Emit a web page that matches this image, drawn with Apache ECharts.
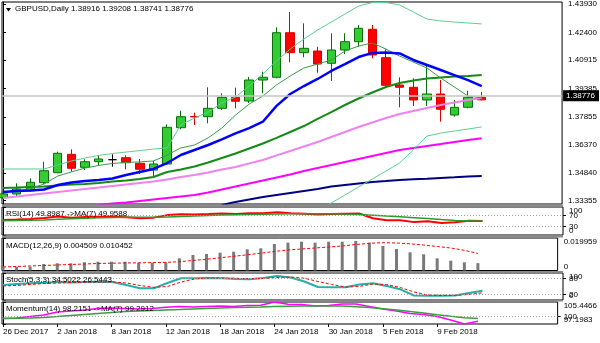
<!DOCTYPE html>
<html>
<head>
<meta charset="utf-8">
<script src="https://cdn.jsdelivr.net/npm/echarts@6/dist/echarts.min.js"></script>
<style>
  html, body { margin: 0; padding: 0; background: #fff; }
  #chart { width: 600px; height: 343px; }
</style>
</head>
<body>
<div id="chart"></div>
<script>
// ---- GBPUSD daily bars ----
const symbol = 'GBPUSD';
const period = 'Daily';
const dates = ['26 Dec 2017','27 Dec 2017','28 Dec 2017','29 Dec 2017','2 Jan 2018','3 Jan 2018','4 Jan 2018','5 Jan 2018',
  '8 Jan 2018','9 Jan 2018','10 Jan 2018','11 Jan 2018','12 Jan 2018','15 Jan 2018','16 Jan 2018','17 Jan 2018',
  '18 Jan 2018','19 Jan 2018','22 Jan 2018','23 Jan 2018','24 Jan 2018','25 Jan 2018','26 Jan 2018','29 Jan 2018',
  '30 Jan 2018','31 Jan 2018','1 Feb 2018','2 Feb 2018','5 Feb 2018','6 Feb 2018','7 Feb 2018','8 Feb 2018',
  '9 Feb 2018','12 Feb 2018','13 Feb 2018','14 Feb 2018'];
const open  = [1.33520,1.33715,1.33892,1.34322,1.34860,1.35849,1.35150,1.35452,1.35559,1.35667,1.35365,1.35005,
  1.35328,1.37280,1.37880,1.37871,1.38322,1.38914,1.38715,1.39844,1.39989,1.42387,1.41312,1.41403,
  1.40742,1.41457,1.41903,1.42570,1.41043,1.39575,1.39452,1.38769,1.39091,1.37962,1.38376,1.38916];
const high  = [1.33850,1.34290,1.34559,1.35452,1.35989,1.36118,1.35581,1.35812,1.35849,1.35796,1.35597,1.35489,
  1.37462,1.38193,1.38086,1.39452,1.39129,1.39430,1.40005,1.40290,1.42677,1.43500,1.42892,1.41634,
  1.42355,1.42355,1.42801,1.42801,1.41495,1.39989,1.39935,1.40634,1.39844,1.38769,1.39269,1.39208];
const low   = [1.33450,1.33607,1.33839,1.34236,1.34828,1.34914,1.35005,1.35220,1.35183,1.35043,1.34790,1.34613,
  1.35274,1.37193,1.37425,1.37516,1.38231,1.38322,1.38607,1.39129,1.39935,1.40796,1.41064,1.40236,
  1.39790,1.41242,1.41634,1.41011,1.39521,1.38376,1.38446,1.38446,1.37602,1.37871,1.38322,1.38741];
const close = [1.33720,1.33984,1.34344,1.34968,1.35903,1.35097,1.35452,1.35597,1.35559,1.35398,1.35043,1.35328,
  1.37301,1.37871,1.37860,1.38322,1.38914,1.38700,1.39844,1.39989,1.42387,1.41312,1.41548,1.40704,
  1.41457,1.41903,1.42624,1.41188,1.39559,1.39452,1.38769,1.39091,1.38269,1.38376,1.38914,1.38776];

// ---- moving averages and bands on the price window ----
const maFast = [1.3377,1.3388,1.3400,1.3425,1.3468,1.3490,1.3511,1.3525,1.3536,1.3541,1.3544,1.3549,
  1.3581,1.3619,1.3635,1.3673,1.3726,1.3796,1.3855,1.3898,1.3958,1.4006,1.4049,1.4070,
  1.4092,1.4140,1.4167,1.4183,1.4151,1.4113,1.4081,1.4049,1.3995,1.3947,1.3898,1.3888];
const maBlue = [1.3382,1.3388,1.3390,1.3396,1.3420,1.3433,1.3441,1.3447,1.3455,1.3474,1.3490,1.3506,
  1.3538,1.3581,1.3608,1.3635,1.3665,1.3697,1.3726,1.3760,1.3845,1.3909,1.3952,1.3990,
  1.4033,1.4070,1.4108,1.4130,1.4132,1.4127,1.4092,1.4065,1.4038,1.4011,1.3984,1.3952];
const maGreen = [1.3404,1.3406,1.3409,1.3412,1.3417,1.3423,1.3425,1.3431,1.3439,1.3444,1.3452,1.3463,
  1.3490,1.3503,1.3519,1.3541,1.3565,1.3589,1.3616,1.3643,1.3673,1.3705,1.3737,1.3775,
  1.3812,1.3850,1.3885,1.3917,1.3947,1.3968,1.3982,1.3993,1.3998,1.4003,1.4006,1.4011];
const bandUpper = [1.3506,1.3506,1.3506,1.3506,1.3527,1.3549,1.3565,1.3579,1.3589,1.3597,1.3605,1.3613,
  1.3619,1.3743,1.3780,1.3812,1.3861,1.3893,1.3952,1.4017,1.4087,1.4151,1.4205,1.4253,
  1.4296,1.4339,1.4382,1.4401,1.4401,1.4388,1.4350,1.4312,1.4302,1.4296,1.4291,1.4286];
const bandLower = [null,null,null,null,null,null,null,null,null,null,null,null,
  null,null,null,null,null,null,null,null,null,null,1.3237,1.3280,
  1.3323,1.3366,1.3409,1.3452,1.3495,1.3538,1.3608,1.3683,1.3699,1.3710,1.3721,1.3732];
const maViolet = [1.3350,1.3358,1.3366,1.3374,1.3382,1.3390,1.3398,1.3406,1.3415,1.3423,1.3431,1.3439,
  1.3449,1.3463,1.3474,1.3487,1.3503,1.3517,1.3536,1.3554,1.3579,1.3603,1.3627,1.3651,
  1.3678,1.3705,1.3732,1.3756,1.3780,1.3802,1.3818,1.3834,1.3850,1.3863,1.3877,1.3888];
const maMagenta = [null,null,null,null,null,null,null,1.3312,1.3320,1.3326,1.3334,1.3342,
  1.3350,1.3358,1.3366,1.3380,1.3396,1.3412,1.3428,1.3444,1.3460,1.3476,1.3495,1.3511,
  1.3527,1.3544,1.3560,1.3576,1.3592,1.3608,1.3619,1.3630,1.3640,1.3651,1.3662,1.3671];
const maNavy = [null,null,null,null,null,null,null,null,null,null,null,null,
  null,null,null,null,1.3312,1.3329,1.3342,1.3355,1.3366,1.3377,1.3388,1.3398,
  1.3412,1.3420,1.3428,1.3436,1.3441,1.3447,1.3451,1.3454,1.3458,1.3461,1.3465,1.3468];
const priceTicks = [1.43930, 1.42400, 1.40915, 1.39385, 1.37855, 1.36370, 1.34840, 1.33355];

// ---- oscillators ----
const rsi = [54,55,57,61,66,62,64,65,65,63,60,62,71,74,73.5,75,77,75,78,78,81,77.5,76,73,
  75,76,77,60,53,53,46,49,43,45.5,50.5,49.8987];
const rsiMa = [51,52,53,54,56.5,58,60,61.5,62.5,63,63,63,64,66,68,70,71.5,72.5,73,74,75,75.5,75.5,75.5,
  75.5,74.5,73,70.5,67.5,65,62,58.5,55,52,50.5,49.9588];
const rsiRange = [0, 100];
const rsiLevels = [30, 70];

const macdMain = [0.00246,0.00233,0.00233,0.00400,0.00442,0.00442,0.00504,0.00541,0.00541,0.00541,0.00479,0.00479,
  0.00504,0.00750,0.00952,0.01014,0.01093,0.01155,0.01302,0.01364,0.01628,0.01708,0.01769,0.01708,
  0.01769,0.01769,0.01812,0.01708,0.01505,0.01321,0.01118,0.00995,0.00749,0.00602,0.00504,0.004509];
const macdSignal = [0.00215,0.00246,0.00276,0.00307,0.00338,0.00369,0.00399,0.00430,0.00448,0.00461,0.00473,0.00485,
  0.00498,0.00541,0.00614,0.00694,0.00780,0.00872,0.00964,0.01063,0.01167,0.01259,0.01321,0.01382,
  0.01443,0.01505,0.01597,0.01671,0.01708,0.01689,0.01640,0.01566,0.01474,0.01382,0.01241,0.010452];
const macdRange = [0, 0.019959];

const stochK = [55.6,59,62,64,66.7,65,66.7,68,66.7,55.6,43.3,43.3,63,80.4,80.4,81.5,80.4,77.8,76.7,81.5,88.9,83.3,68.5,48,
  47,47,57.4,61.9,51.9,39.6,16.7,16,16,16.7,26,34.5022];
const stochD = [51.9,53.7,57.4,61,63,64.8,65.6,66.7,66.7,63,53.7,47,50,66.7,77.8,81.5,81.5,80.4,78.9,79.6,83.3,85.2,80.4,68.5,
  57.4,48,50,59.3,57.4,46.3,29.6,18.5,16.7,17.4,20.4,26.5443];
const stochRange = [0, 100];
const stochLevels = [20, 80];

const momentum = [99.26,99.45,100.01,100.57,101.7,102.07,102.45,103.01,103.2,103.01,102.82,103.01,
  103.46,103.76,103.57,103.76,103.95,103.76,104.13,104.21,105.4466,104.58,104.51,103.95,
  104.13,104.7,104.7,103.76,102.82,102.07,101.14,100.76,100.01,98.7,97.1983,98.2151];
const momentumMa = [99.26,99.34,99.45,99.64,100.01,100.39,100.76,101.14,101.51,101.89,102.07,102.26,
  102.45,102.63,102.82,103.01,103.2,103.38,103.46,103.57,103.76,103.87,103.95,103.95,
  103.95,103.95,103.68,103.38,102.93,102.45,101.89,101.32,100.68,100.08,99.52,99.2912];
const momentumRange = [97.1983, 105.4466];
const momentumLevels = [100];

// ---- layout ----
const FONT = '"Liberation Sans", Arial, sans-serif';
const X_MIN = -0.073, X_MAX = 40.876;
const last = dates.length - 1;
const dateTicks = dates.map((d, i) => i).filter(i => i % 4 === 0);

const pairs = arr => arr.map((v, i) => [i, v]).filter(p => p[1] != null);

const panels = [
  { top: 2,   height: 202 },
  { top: 207, height: 28 },
  { top: 238, height: 32.5 },
  { top: 273, height: 27 },
  { top: 302, height: 22 }
];

const grids = panels.map(p => ({
  left: 2, top: p.top, width: 561, height: p.height,
  show: true, borderColor: '#000', borderWidth: 1, backgroundColor: '#fff'
}));

const xAxes = panels.map((p, k) => {
  const isLast = k === panels.length - 1;
  return {
    type: 'value', gridIndex: k, min: X_MIN, max: X_MAX,
    show: isLast,
    axisLine: { show: false },
    splitLine: { show: false },
    axisTick: { show: isLast, customValues: dateTicks, length: 3, lineStyle: { color: '#000' } },
    axisLabel: {
      show: isLast, customValues: dateTicks, margin: 4, align: 'left',
      fontSize: 8, fontFamily: FONT, color: '#000', hideOverlap: false,
      formatter: v => dates[Math.round(v)] || ''
    }
  };
});

// labels sitting on a window's top or bottom edge are nudged inside it
const edgeRich = {
  t: { padding: [8, 0, 0, 0], fontSize: 8, fontFamily: FONT, color: '#000' },
  b: { padding: [0, 0, 8, 0], fontSize: 8, fontFamily: FONT, color: '#000' }
};
function yAxisFor(k, range, ticks, fmt, withLine) {
  return {
    type: 'value', gridIndex: k, position: 'right', min: range[0], max: range[1],
    axisLine: { show: withLine, lineStyle: { color: '#000' } },
    splitLine: { show: false },
    axisTick: { show: true, customValues: ticks, length: 3, lineStyle: { color: '#000' } },
    axisLabel: {
      customValues: ticks, margin: 6, fontSize: 8, fontFamily: FONT, color: '#000',
      showMinLabel: true, showMaxLabel: true, hideOverlap: false,
      formatter: fmt, rich: edgeRich
    }
  };
}
const near = (a, b) => Math.abs(a - b) < 1e-9;
const edgeFmt = (range, f) => v => near(v, range[1]) ? '{t|' + f(v) + '}' : near(v, range[0]) ? '{b|' + f(v) + '}' : f(v);
const intFmt = v => String(Math.round(v));

// axes 0-4: one per window (carry the series); axes 5-7: inner level labels
const yAxes = [
  yAxisFor(0, [1.33177, 1.44038], priceTicks, v => v.toFixed(5), true),
  yAxisFor(1, rsiRange, rsiRange, edgeFmt(rsiRange, intFmt), true),
  yAxisFor(2, macdRange, macdRange, edgeFmt(macdRange, v => v === 0 ? '0' : v.toFixed(6)), true),
  yAxisFor(3, stochRange, stochRange, edgeFmt(stochRange, intFmt), true),
  yAxisFor(4, momentumRange, momentumRange, edgeFmt(momentumRange, v => v.toFixed(4)), true),
  yAxisFor(1, rsiRange, rsiLevels, intFmt, false),
  yAxisFor(3, stochRange, stochLevels, intFmt, false),
  yAxisFor(4, momentumRange, momentumLevels, intFmt, false)
];

function line(k, arr, color, width, dash) {
  return {
    type: 'line', xAxisIndex: k, yAxisIndex: k, data: pairs(arr),
    showSymbol: false, symbol: 'none', clip: true, silent: true,
    lineStyle: { color, width, type: dash || 'solid' }
  };
}
function levels(vals) {
  return {
    silent: true, symbol: ['none', 'none'], animation: false,
    label: { show: false },
    lineStyle: { color: '#a0a0a0', width: 1, type: [1, 2] },
    data: vals.map(v => ({ yAxis: v }))
  };
}

const series = [
  {
    type: 'candlestick', xAxisIndex: 0, yAxisIndex: 0, barWidth: 9, clip: true,
    encode: { x: 0, y: [1, 2, 3, 4] },
    data: dates.map((d, i) => [i, open[i], close[i], low[i], high[i]]),
    itemStyle: {
      color: '#33cc33', color0: '#ff0000',
      borderColor: '#0b6e0b', borderColor0: '#e00000', borderColorDoji: '#000',
      borderWidth: 1
    },
    markLine: {
      silent: true, symbol: ['none', 'none'], animation: false,
      lineStyle: { color: '#c4c4c4', width: 1.5, type: 'solid' },
      label: {
        show: true, position: 'end', distance: 1,
        formatter: close[last].toFixed(5),
        color: '#fff', backgroundColor: '#000', padding: [2, 4, 1, 3],
        fontSize: 8, fontFamily: FONT
      },
      data: [{ yAxis: close[last] }]
    }
  },
  line(0, maNavy, '#000080', 2),
  line(0, maMagenta, '#ff00ff', 2),
  line(0, maViolet, '#ee82ee', 2),
  line(0, bandUpper, '#5ccf8e', 1),
  line(0, bandLower, '#5ccf8e', 1),
  line(0, maGreen, '#138a13', 2),
  line(0, maFast, '#3a9a48', 1),
  line(0, maBlue, '#0000ff', 2.5),

  Object.assign(line(1, rsi, '#ff0000', 2), { markLine: levels(rsiLevels) }),
  line(1, rsiMa, '#2e9a2e', 1.5),

  {
    type: 'bar', xAxisIndex: 2, yAxisIndex: 2, data: pairs(macdMain), barWidth: 3, silent: true,
    itemStyle: { color: '#7a7a7a' }
  },
  line(2, macdSignal, '#ff0000', 1, [3, 2]),

  Object.assign(line(3, stochK, '#20b2aa', 2), { markLine: levels(stochLevels) }),
  line(3, stochD, '#ff0000', 1, [3, 2]),

  Object.assign(line(4, momentum, '#ff00ff', 1.5), { markLine: levels(momentumLevels) }),
  line(4, momentumMa, '#3a9e3a', 1.5)
];

const f4 = v => v.toFixed(4);
const headerText = symbol + ',' + period + ' ' + [open[last], high[last], low[last], close[last]].map(v => v.toFixed(5)).join(' ');
const textItem = (text, x, y) => ({
  type: 'text', left: x, top: y, z: 100, silent: true,
  style: { text, fill: '#000', font: '8px ' + FONT }
});

// grey separators between the indicator windows
const separators = panels.slice(0, -1).map((p, k) => {
  const y0 = p.top + p.height + 0.5, y1 = panels[k + 1].top - 0.5;
  return { type: 'rect', silent: true, z: 90, shape: { x: 2, y: y0, width: 561, height: Math.max(0, y1 - y0) }, style: { fill: '#8c8c8c' } };
});

const graphic = [
  ...separators,
  { type: 'polygon', z: 100, silent: true, shape: { points: [[6, 8], [11, 8], [8.5, 11.5]] }, style: { fill: '#000' } },
  textItem(headerText, 15, 5),
  textItem('RSI(14) ' + f4(rsi[last]) + ' ->MA(7) ' + f4(rsiMa[last]), 6, 210),
  textItem('MACD(12,26,9) ' + macdMain[last].toFixed(6) + ' ' + macdSignal[last].toFixed(6), 6, 241.5),
  textItem('Stoch(5,3,3) ' + f4(stochK[last]) + ' ' + f4(stochD[last]), 6, 276),
  textItem('Momentum(14) ' + f4(momentum[last]) + ' ->MA(7) ' + f4(momentumMa[last]), 6, 305)
];

const chart = echarts.init(document.getElementById('chart'), null, { renderer: 'canvas' });
chart.setOption({
  animation: false,
  backgroundColor: '#fff',
  grid: grids,
  xAxis: xAxes,
  yAxis: yAxes,
  series,
  graphic
});
</script>
</body>
</html>
